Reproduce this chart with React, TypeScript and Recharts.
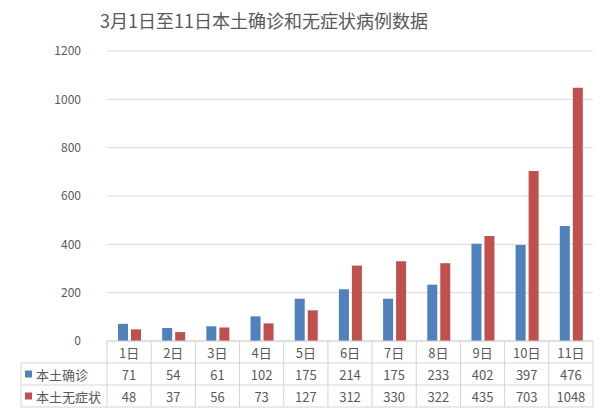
import React from 'react';
import { BarChart, Bar, XAxis, YAxis, CartesianGrid } from 'recharts';

const categories = ['1日', '2日', '3日', '4日', '5日', '6日', '7日', '8日', '9日', '10日', '11日'];
const localConfirmed = [71, 54, 61, 102, 175, 214, 175, 233, 402, 397, 476];
const localAsymptomatic = [48, 37, 56, 73, 127, 312, 330, 322, 435, 703, 1048];
const seriesNames = ['本土确诊', '本土无症状'];
const yTicks = [0, 200, 400, 600, 800, 1000, 1200];
const title = '3月1日至11日本土确诊和无症状病例数据';

const data = categories.map((day, i) => ({
  day,
  confirmed: localConfirmed[i],
  asymptomatic: localAsymptomatic[i],
}));

const W = 607;
const H = 411;
const PLOT_LEFT = 107;
const PLOT_RIGHT = 14;
const ROW_H = 22;
const TABLE_H = ROW_H * 3;
const colWidth = (W - PLOT_LEFT - PLOT_RIGHT) / categories.length;

const colors = { confirmed: '#4F81BD', asymptomatic: '#C0504D' };
const textColor = '#595959';
const borderColor = '#D4D4D4';
const font = '"Noto Sans CJK SC", "Noto Sans", sans-serif';

function TableTick(props: any) {
  const { x, y, payload } = props;
  const i = props.index ?? payload.index;
  const left = x - colWidth / 2;
  const right = x + colWidth / 2;
  const rows = [categories[i], localConfirmed[i], localAsymptomatic[i]];

  return (
    <g>
      <line x1={left} y1={y} x2={left} y2={y + TABLE_H} stroke={borderColor} />
      {i === categories.length - 1 && (
        <line x1={right} y1={y} x2={right} y2={y + TABLE_H} stroke={borderColor} />
      )}
      {[1, 2, 3].map((r) => (
        <line key={r} x1={left} y1={y + ROW_H * r} x2={right} y2={y + ROW_H * r} stroke={borderColor} />
      ))}
      {rows.map((v, r) => (
        <text
          key={r}
          x={x}
          y={y + ROW_H * r + ROW_H / 2}
          textAnchor="middle"
          dominantBaseline="central"
          fontSize={13}
          fill={textColor}
          fontFamily={font}
        >
          {v}
        </text>
      ))}
      {i === 0 && (
        <g>
          <line x1={21} y1={y + ROW_H} x2={left} y2={y + ROW_H} stroke={borderColor} />
          <line x1={21} y1={y + ROW_H * 2} x2={left} y2={y + ROW_H * 2} stroke={borderColor} />
          <line x1={21} y1={y + TABLE_H} x2={left} y2={y + TABLE_H} stroke={borderColor} />
          <line x1={21} y1={y + ROW_H} x2={21} y2={y + TABLE_H} stroke={borderColor} />
          {seriesNames.map((name, r) => {
            const cy = y + ROW_H * (r + 1) + ROW_H / 2;
            return (
              <g key={name}>
                <rect
                  x={25}
                  y={cy - 3.5}
                  width={7}
                  height={7}
                  fill={r === 0 ? colors.confirmed : colors.asymptomatic}
                />
                <text
                  x={36}
                  y={cy}
                  dominantBaseline="central"
                  fontSize={13}
                  fill={textColor}
                  fontFamily={font}
                >
                  {name}
                </text>
              </g>
            );
          })}
        </g>
      )}
    </g>
  );
}

export default function App() {
  return (
    <div style={{ position: 'absolute', left: 0, top: 0, width: W, height: H, background: '#fff' }}>
      <div
        style={{
          position: 'absolute',
          left: 100,
          top: 6,
          whiteSpace: 'nowrap',
          fontFamily: font,
          fontSize: 18,
          color: textColor,
          lineHeight: '28px',
        }}
      >
        {title}
      </div>
      <BarChart
        width={W}
        height={H}
        data={data}
        margin={{ top: 51, right: PLOT_RIGHT, left: 0, bottom: 0 }}
        barSize={10}
        barGap={3}
      >
        <CartesianGrid vertical={false} stroke="#D9D9D9" />
        <XAxis
          dataKey="day"
          height={H - 341}
          interval={0}
          tickLine={false}
          tickSize={0}
          tickMargin={0}
          axisLine={{ stroke: borderColor }}
          tick={<TableTick />}
        />
        <YAxis
          width={PLOT_LEFT}
          domain={[0, 1200]}
          ticks={yTicks}
          axisLine={false}
          tickLine={false}
          tickSize={0}
          tickMargin={26}
          tick={{ fill: textColor, fontSize: 12, fontFamily: font }}
        />
        <Bar dataKey="confirmed" name={seriesNames[0]} fill={colors.confirmed} isAnimationActive={false} />
        <Bar dataKey="asymptomatic" name={seriesNames[1]} fill={colors.asymptomatic} isAnimationActive={false} />
      </BarChart>
    </div>
  );
}
